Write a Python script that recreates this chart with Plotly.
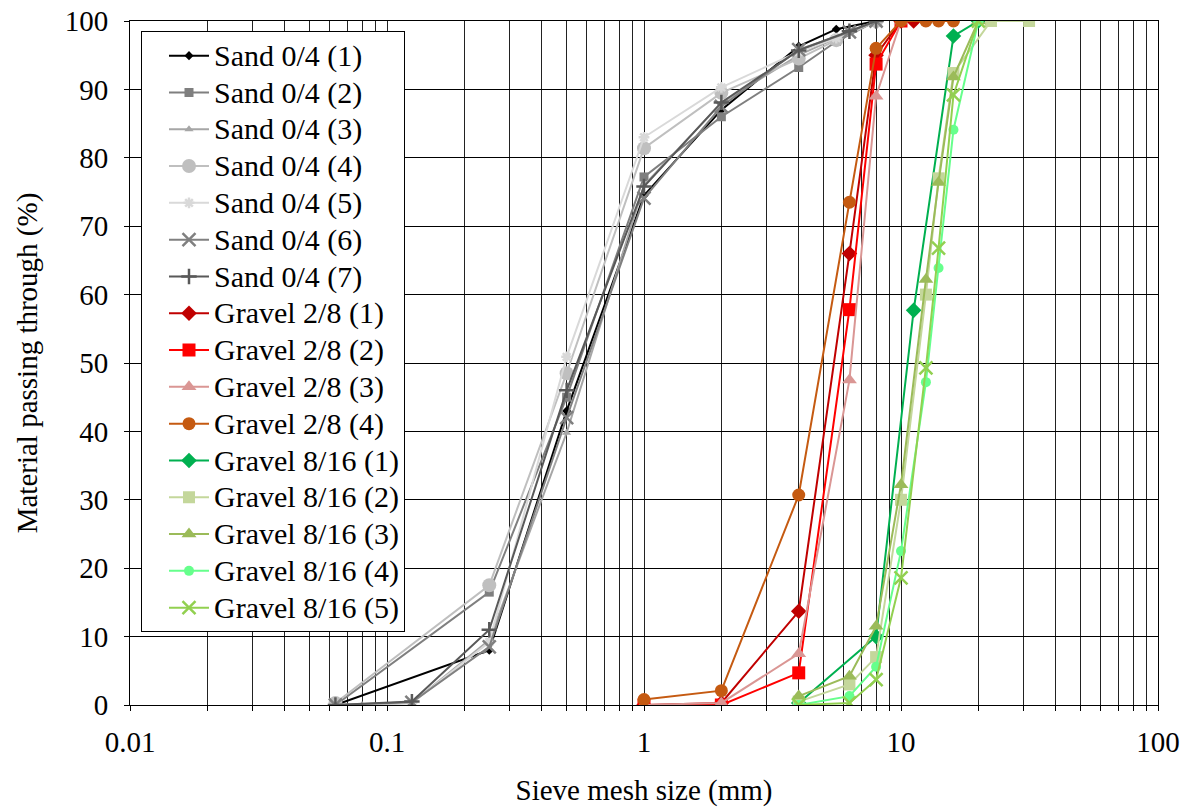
import plotly.graph_objects as go

# Sieve analysis: cumulative passing for sand and gravel samples
sand_names = ["Sand 0/4 (1)", "Sand 0/4 (2)", "Sand 0/4 (3)", "Sand 0/4 (4)",
              "Sand 0/4 (5)", "Sand 0/4 (6)", "Sand 0/4 (7)"]
sand_sieves = [
    [0.063, 0.25, 0.5, 1, 2, 4, 5.6, 8],
    [0.063, 0.25, 0.5, 1, 2, 4, 5.6, 8],
    [0.063, 0.08, 0.125, 0.25, 0.5, 1, 2, 4, 5.6, 8],
    [0.063, 0.25, 0.5, 1, 2, 4, 5.6, 8],
    [0.063, 0.125, 0.25, 0.5, 1, 2, 4, 5.6, 8],
    [0.063, 0.125, 0.25, 0.5, 1, 2, 4, 6.3, 8],
    [0.063, 0.125, 0.25, 0.5, 1, 2, 4, 6.3, 8],
]
sand_passing = [
    [0, 8.0, 43, 74.5, 87, 96.3, 98.8, 100],
    [0, 16.5, 45, 77.2, 86, 93.2, 97, 100],
    [0, 0, 0.3, 9.5, 39.8, 76, 88, 95, 97.5, 100],
    [0.3, 17.5, 48.5, 81.4, 89.5, 94.5, 97.2, 100],
    [0, 0.3, 9.2, 50.9, 83, 90.3, 95.5, 97.5, 100],
    [0, 0.4, 8.5, 42, 74.1, 87.5, 95.8, 98.4, 100],
    [0, 0.5, 11, 46, 75.8, 88.1, 95.7, 98.5, 100],
]

g28_names = ["Gravel 2/8 (1)", "Gravel 2/8 (2)", "Gravel 2/8 (3)", "Gravel 2/8 (4)"]
g28_sieves = [
    [1, 2, 4, 6.3, 8, 10, 11.2],
    [1, 2, 4, 6.3, 8, 10],
    [1, 2, 4, 6.3, 8, 10],
    [1, 2, 4, 6.3, 8, 10, 12.5, 14, 16],
]
g28_passing = [
    [0, 0.3, 13.7, 66, 95, 100, 100],
    [0, 0, 4.7, 57.8, 93.7, 100],
    [0, 0.3, 7.5, 47.5, 89, 100],
    [0.8, 2.1, 30.7, 73.5, 96, 100, 100, 100, 100],
]

g816_names = ["Gravel 8/16 (1)", "Gravel 8/16 (2)", "Gravel 8/16 (3)",
              "Gravel 8/16 (4)", "Gravel 8/16 (5)"]
g816_sieves = [
    [4, 8, 11.2, 16, 20],
    [4, 6.3, 8, 10, 12.5, 14, 16, 22.4, 31.5],
    [4, 6.3, 8, 10, 12.5, 14, 16, 20],
    [4, 6.3, 8, 10, 12.5, 14, 16, 20],
    [4, 6.3, 8, 10, 12.5, 14, 16, 20],
]
g816_passing = [
    [0.3, 10, 57.7, 97.8, 100],
    [0.5, 3, 7, 30, 60, 77, 92.4, 100, 100],
    [1.3, 4.2, 11.5, 32.2, 62.2, 76.4, 91.8, 100],
    [0, 1.3, 5.6, 22.5, 47.2, 63.9, 84.1, 100],
    [0, 0.3, 3.7, 18.6, 49.3, 66.8, 89.2, 100],
]

x_major = [0.01, 0.1, 1, 10, 100]
x_major_labels = ["0.01", "0.1", "1", "10", "100"]

# line colour, marker symbol, marker size for each series
sand_style = [
    ("#000000", "diamond", 7),
    ("#7F7F7F", "square", 9),
    ("#A6A6A6", "triangle-up", 8),
    ("#BFBFBF", "circle", 14),
    ("#D9D9D9", "asterisk-open", 9),
    ("#808080", "x-thin-open", 13),
    ("#595959", "cross-thin-open", 11),
]
g28_style = [
    ("#C00000", "diamond", 12),
    ("#FF0000", "square", 13),
    ("#DA9694", "triangle-up", 13),
    ("#C55A11", "circle", 13),
]
g816_style = [
    ("#00B050", "diamond", 12),
    ("#C4D79B", "square", 12),
    ("#9BBB59", "triangle-up", 13),
    ("#66FF8C", "circle", 10),
    ("#92D050", "x-thin-open", 13),
]

LEGEND_TEXT_PX = 30

fig = go.Figure()


def add_group(names, sieves, passing, styles):
    for name, xs, ys, (col, sym, size) in zip(names, sieves, passing, styles):
        open_sym = sym.endswith("-open")
        fig.add_trace(go.Scatter(
            x=xs, y=ys, mode="lines+markers",
            name=f"<span style='font-size:{LEGEND_TEXT_PX}px'>{name}</span>",
            line=dict(color=col, width=2),
            marker=dict(symbol=sym, size=size, color=col,
                        line=dict(color=col, width=2.5 if open_sym else 0)),
        ))


add_group(sand_names, sand_sieves, sand_passing, sand_style)
add_group(g28_names, g28_sieves, g28_passing, g28_style)
add_group(g816_names, g816_sieves, g816_passing, g816_style)

# every 1..9 sub-division of each decade gets a grid line; only decades are labelled
x_grid = []
x_text = []
for i, dec in enumerate(x_major[:-1]):
    for k in range(1, 10):
        x_grid.append(round(dec * k, 6))
        x_text.append(x_major_labels[i] if k == 1 else "")
x_grid.append(x_major[-1])
x_text.append(x_major_labels[-1])

font_family = "'Liberation Serif', 'Times New Roman', serif"

fig.update_layout(
    width=1188, height=807,
    margin=dict(l=130, r=30, t=21, b=102),
    paper_bgcolor="white", plot_bgcolor="white",
    font=dict(family=font_family, color="black", size=28),
    showlegend=True,
    legend=dict(
        x=0.0107, y=0.985, xanchor="left", yanchor="top",
        bgcolor="white", bordercolor="#000000", borderwidth=1,
        font=dict(size=26, family=font_family),
        itemwidth=40, tracegroupgap=0, indentation=22,
    ),
    xaxis=dict(
        type="log", range=[-2, 2], automargin=False,
        tickmode="array", tickvals=x_grid, ticktext=x_text,
        showgrid=True, gridcolor="#222222", gridwidth=1,
        showline=True, linecolor="black", linewidth=1, mirror=True,
        ticks="outside", ticklen=5, tickcolor="black",
        tickfont=dict(size=29), zeroline=False, ticklabelstandoff=6,
        title=dict(text="Sieve mesh size (mm)", font=dict(size=29), standoff=26),
    ),
    yaxis=dict(
        range=[0, 100], dtick=10, tick0=0, automargin=False,
        showgrid=True, gridcolor="#000000", gridwidth=1,
        showline=True, linecolor="black", linewidth=1, mirror=True,
        ticks="outside", ticklen=5, tickcolor="black",
        tickfont=dict(size=29), zeroline=False, ticklabelstandoff=10,
        title=dict(text="Material passing through (%)", font=dict(size=29), standoff=18),
    ),
)

fig.write_html("out.html")
